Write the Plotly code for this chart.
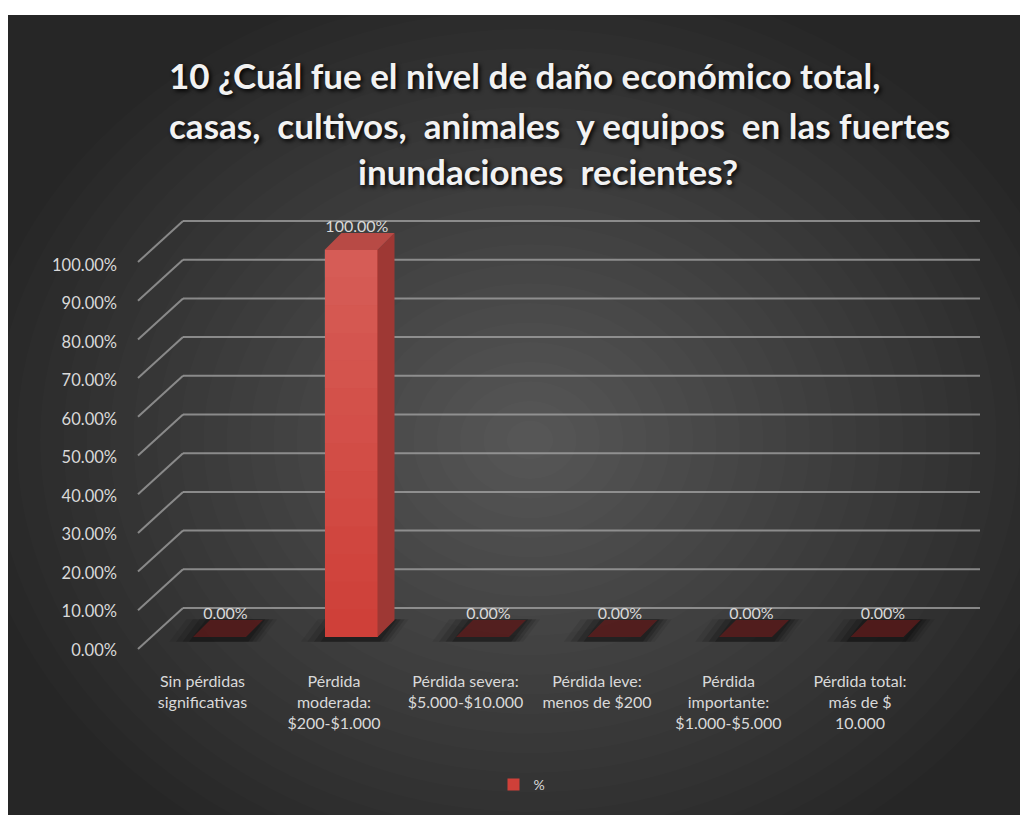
import plotly.graph_objects as go

# ---- data -------------------------------------------------------------
title_lines = [
    "10 ¿Cuál fue el nivel de daño económico total,",
    "casas,  cultivos,  animales  y equipos  en las fuertes",
    "inundaciones  recientes?",
]
categories = [
    "Sin pérdidas<br>significativas",
    "Pérdida<br>moderada:<br>$200-$1.000",
    "Pérdida severa:<br>$5.000-$10.000",
    "Pérdida leve:<br>menos de $200",
    "Pérdida<br>importante:<br>$1.000-$5.000",
    "Pérdida total:<br>más de $<br>10.000",
]
percent = [0.0, 1.0, 0.0, 0.0, 0.0, 0.0]
series_name = "%"
y_ticks = [i / 10 for i in range(11)]

# ---- page geometry (pixels) -------------------------------------------
W, H = 1020, 815
PLOT_L, PLOT_R, PLOT_T, PLOT_B = 130, 1000, 200, 668
CAT0_PX, CAT_STEP_PX = 219.5, 131.5      # centre of first column, spacing
ZERO_PX, UNIT_PX = 637.0, 387.0          # column front plane: 0 and 100 %
LABEL_ZERO_PX, LABEL_UNIT_PX = 650.0, 385.0
WALL_DY = 29.0                           # back wall sits above the column face
FLOOR_DY = 41.0                          # front floor edge below the back wall
WALL_X0, WALL_X1, FRONT_X = 183.0, 980.0, 138.0
BAR_W = 53.0 / CAT_STEP_PX
DEPTH_X, DEPTH_Y = 17.0 / CAT_STEP_PX, 17.0 / UNIT_PX

FONT = "Lato, Open Sans, sans-serif"
TXT = "#d9d9d9"


def xd(px):
    return (px - CAT0_PX) / CAT_STEP_PX


def yd(py):
    return (ZERO_PX - py) / UNIT_PX


def xp(px):
    """pixel column -> paper fraction"""
    return (px - PLOT_L) / (PLOT_R - PLOT_L)


def yp(py):
    """pixel row -> paper fraction"""
    return (PLOT_B - py) / (PLOT_B - PLOT_T)


x_range = [xd(PLOT_L), xd(PLOT_R)]
y_range = [yd(PLOT_B), yd(PLOT_T)]
label_shift = 17.0 / CAT_STEP_PX
x2_range = [x_range[0] + label_shift, x_range[1] + label_shift]
y2_range = [(LABEL_ZERO_PX - PLOT_B) / LABEL_UNIT_PX,
            (LABEL_ZERO_PX - PLOT_T) / LABEL_UNIT_PX]

idx = list(range(len(categories)))
shapes = []

# dark backdrop with a soft radial glow
shapes.append(dict(type="rect", xref="paper", yref="paper", layer="below",
                   x0=xp(8), x1=xp(W), y0=yp(H), y1=yp(15),
                   fillcolor="#262626", line_width=0))
GLOW_CX, GLOW_CY = 530.0, 440.0
for k in range(24):
    f = 1 - k / 24
    rx, ry = 560 * f, 470 * f
    shapes.append(dict(type="circle", xref="paper", yref="paper", layer="below",
                       x0=xp(GLOW_CX - rx), x1=xp(GLOW_CX + rx),
                       y0=yp(GLOW_CY + ry), y1=yp(GLOW_CY - ry),
                       fillcolor="rgba(255,255,255,0.0115)", line_width=0))
# white page border around the backdrop
shapes.append(dict(type="rect", xref="paper", yref="paper", layer="below",
                   x0=xp(-20), x1=xp(8), y0=yp(H + 20), y1=yp(-20),
                   fillcolor="white", line_width=0))
shapes.append(dict(type="rect", xref="paper", yref="paper", layer="below",
                   x0=xp(-20), x1=xp(W + 20), y0=yp(15), y1=yp(-20),
                   fillcolor="white", line_width=0))

# back wall grid lines and their side-wall diagonals
GRID = "rgba(165,165,165,0.75)"
for v in y_ticks:
    yb = v + WALL_DY / UNIT_PX
    yf = yb - FLOOR_DY / UNIT_PX
    shapes.append(dict(type="line", xref="x", yref="y", layer="below",
                       x0=xd(WALL_X0), x1=xd(WALL_X1), y0=yb, y1=yb,
                       line=dict(color=GRID, width=2)))
    shapes.append(dict(type="line", xref="x", yref="y", layer="below",
                       x0=xd(FRONT_X), x1=xd(WALL_X0), y0=yf, y1=yb,
                       line=dict(color=GRID, width=2)))

# soft floor shadows under each column
for i, v in zip(idx, percent):
    for grow, op in [(0.18, 0.08), (0.13, 0.12), (0.08, 0.16), (0.03, 0.20)]:
        x0 = i - BAR_W / 2 - grow
        x1 = i + BAR_W / 2 + DEPTH_X + grow * 0.6
        y0, y1 = -0.012, DEPTH_Y + 0.002
        shapes.append(dict(type="path", xref="x", yref="y", layer="below",
                           path=(f"M{x0},{y0} L{x1 - DEPTH_X},{y0} "
                                 f"L{x1},{y1} L{x0 + DEPTH_X},{y1} Z"),
                           fillcolor=f"rgba(0,0,0,{op})", line_width=0))

# column top and side faces, plus a light-to-dark sheen on the front face
for i, v in zip(idx, percent):
    xl, xr = i - BAR_W / 2, i + BAR_W / 2
    if v > 0:
        n = 14
        for s in range(n):
            a = v * s / n
            b = v * (s + 1) / n
            shapes.append(dict(type="rect", xref="x", yref="y", layer="above",
                               x0=xl, x1=xr, y0=a, y1=b,
                               fillcolor=f"rgba(255,255,255,{0.15 * s / (n - 1):.3f})",
                               line_width=0))
        shapes.append(dict(type="path", xref="x", yref="y", layer="above",
                           path=(f"M{xr},0 L{xr},{v} L{xr + DEPTH_X},{v + DEPTH_Y} "
                                 f"L{xr + DEPTH_X},{DEPTH_Y} Z"),
                           fillcolor="#9e3834", line_width=0))
    top_col = "#b84a45" if v > 0 else "rgba(115,28,28,0.6)"
    shapes.append(dict(type="path", xref="x", yref="y", layer="above",
                       path=(f"M{xl},{v} L{xl + DEPTH_X},{v + DEPTH_Y} "
                             f"L{xr + DEPTH_X},{v + DEPTH_Y} L{xr},{v} Z"),
                       fillcolor=top_col, line_width=0))

fig = go.Figure()

fig.add_trace(go.Bar(
    x=idx, y=percent, width=BAR_W, name=series_name,
    marker=dict(color="#cf4039", line_width=0),
    hoverinfo="skip",
))

# value labels, sitting just above each column's top face
fig.add_trace(go.Scatter(
    x=[i + DEPTH_X / 2 - 0.02 for i in idx],
    y=[v + DEPTH_Y * 0.85 for v in percent],
    customdata=percent,
    mode="text", texttemplate="%{customdata:.2%}", textposition="top center",
    textfont=dict(family=FONT, size=16, color=TXT),
    showlegend=False, hoverinfo="skip", cliponaxis=False,
))

# carrier trace for the category / percentage label axes
fig.add_trace(go.Scatter(
    x=idx, y=percent, xaxis="x2", yaxis="y2", mode="markers",
    marker=dict(opacity=0), showlegend=False, hoverinfo="skip",
))

annotations = []
for line, cx, cy in zip(title_lines, [524, 559, 548], [75, 125, 171]):
    annotations.append(dict(
        text=line, xref="paper", yref="paper",
        x=xp(cx), xanchor="center", y=yp(cy), yanchor="middle",
        showarrow=False,
        font=dict(family=FONT, size=35, color="#f2f2f2", weight="bold",
                  shadow="2px 2px 4px #000"),
    ))

fig.update_layout(
    width=W, height=H,
    margin=dict(l=PLOT_L, r=W - PLOT_R, t=PLOT_T, b=H - PLOT_B),
    paper_bgcolor="white",
    plot_bgcolor="rgba(0,0,0,0)",
    shapes=shapes,
    annotations=annotations,
    bargap=0,
    xaxis=dict(range=x_range, showgrid=False, zeroline=False, showticklabels=False,
               showline=False, fixedrange=True),
    yaxis=dict(range=y_range, showgrid=False, zeroline=False, showticklabels=False,
               showline=False, fixedrange=True),
    xaxis2=dict(range=x2_range, overlaying="x", anchor="y2", side="bottom",
                tickmode="array", tickvals=idx, ticktext=categories,
                showgrid=False, zeroline=False, showline=False, ticks="",
                tickfont=dict(family=FONT, size=16, color=TXT),
                ticklabelstandoff=2),
    yaxis2=dict(range=y2_range, overlaying="y", anchor="x2", side="left",
                tickmode="array", tickvals=y_ticks, tickformat=".2%",
                showgrid=False, zeroline=False, showline=False, ticks="",
                tickfont=dict(family=FONT, size=16.5, color=TXT),
                ticklabelstandoff=12),
    legend=dict(orientation="h", x=xp(522), xanchor="center", y=yp(785),
                yanchor="middle", itemwidth=30,
                font=dict(family=FONT, size=14, color=TXT),
                bgcolor="rgba(0,0,0,0)"),
    showlegend=True,
)

fig.write_html("out.html")
